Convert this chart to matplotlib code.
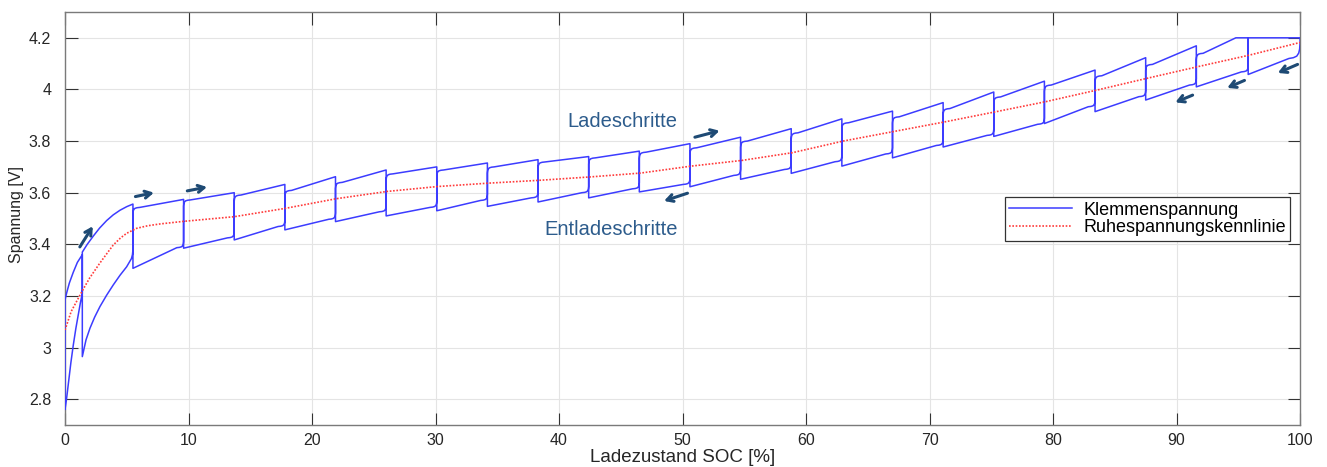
import matplotlib
matplotlib.use('Agg')
import matplotlib.pyplot as plt
import numpy as np

plt.rcParams['font.family'] = ['Liberation Sans', 'DejaVu Sans']

# ---------------- data ----------------
# step boundaries [% SOC] of the regular charge / discharge boxes
step_soc = [5.5, 9.6, 13.7, 17.8, 21.9, 26.0, 30.1, 34.2, 38.3, 42.4, 46.5, 50.6,
            54.7, 58.8, 62.9, 67.0, 71.1, 75.2, 79.3, 83.4, 87.5, 91.6, 95.8, 100.0]
# charging edge (top) of each box: value at start (left) and end (right)
charge_start = [3.543, 3.572, 3.591, 3.609, 3.640, 3.673, 3.688, 3.700, 3.719, 3.735,
                3.757, 3.774, 3.800, 3.832, 3.871, 3.894, 3.926, 3.971, 4.017, 4.053,
                4.097, 4.140, 4.200]
charge_end = [3.574, 3.600, 3.632, 3.662, 3.688, 3.700, 3.715, 3.728, 3.740, 3.761,
              3.790, 3.815, 3.848, 3.886, 3.916, 3.949, 3.990, 4.032, 4.075, 4.123,
              4.169, 4.200, 4.200]
# discharging edge (bottom) of each box: value at start (right) and end (left)
discharge_start = [3.387, 3.425, 3.469, 3.497, 3.526, 3.543, 3.570, 3.580, 3.600, 3.615,
                   3.632, 3.667, 3.690, 3.720, 3.750, 3.783, 3.822, 3.865, 3.933, 3.972,
                   4.017, 4.068, 4.120]
discharge_end = [3.307, 3.385, 3.417, 3.456, 3.488, 3.510, 3.530, 3.547, 3.564, 3.580,
                 3.603, 3.623, 3.652, 3.675, 3.703, 3.735, 3.777, 3.818, 3.868, 3.914,
                 3.959, 4.010, 4.058]
charge_limit_v = 4.2
charge_limit_soc = 94.8

# first two (irregular) steps, read point by point
charge_a_soc = [0.0, 0.15, 0.35, 0.67, 1.0, 1.4]
charge_a_v = [3.185, 3.215, 3.25, 3.292, 3.33, 3.36]
charge_b_soc = [1.4, 1.8, 2.29, 2.8, 3.37, 3.9, 4.45, 5.0, 5.5]
charge_b_v = [3.37, 3.40, 3.432, 3.463, 3.492, 3.514, 3.532, 3.546, 3.556]
discharge_b_soc = [5.5, 5.46, 5.38, 4.99, 4.45, 3.91, 3.37, 2.83, 2.4, 2.02, 1.7, 1.4]
discharge_b_v = [3.38, 3.36, 3.345, 3.313, 3.28, 3.243, 3.203, 3.159, 3.118, 3.075, 3.03, 2.965]
discharge_a_soc = [1.4, 1.25, 1.08, 0.88, 0.67, 0.47, 0.27, 0.12, 0.0]
discharge_a_v = [3.21, 3.175, 3.13, 3.075, 3.01, 2.94, 2.86, 2.80, 2.76]

# open circuit voltage curve (Ruhespannungskennlinie)
ocv_soc = [0, 0.5, 1.4, 2.0, 2.8, 3.4, 3.9, 4.5, 5.0, 5.8, 6.7, 7.7, 9.6, 13.7, 17.8,
           22.0, 26.1, 30.2, 34.3, 38.4, 42.5, 46.6, 50.7, 54.8, 58.9, 63.0, 67.1,
           71.2, 75.3, 79.35, 83.5, 87.6, 91.7, 95.9, 100]
ocv_v = [3.068, 3.14, 3.22, 3.27, 3.326, 3.365, 3.397, 3.425, 3.443, 3.462, 3.472,
         3.479, 3.489, 3.507, 3.539, 3.577, 3.605, 3.624, 3.637, 3.648, 3.661, 3.676,
         3.703, 3.725, 3.755, 3.80, 3.837, 3.874, 3.913, 3.952, 3.997, 4.043, 4.088,
         4.133, 4.182]

xticks = [0, 10, 20, 30, 40, 50, 60, 70, 80, 90, 100]
yticks = [2.8, 3.0, 3.2, 3.4, 3.6, 3.8, 4.0, 4.2]
ytick_labels = ['2.8', '3', '3.2', '3.4', '3.6', '3.8', '4', '4.2']

# arrows: (tail soc, tail v, head soc, head v)
arrows = [(1.2, 3.39, 2.25, 3.47), (5.7, 3.585, 7.2, 3.60), (9.9, 3.607, 11.5, 3.622),
          (51.0, 3.815, 53.0, 3.84), (50.4, 3.598, 48.5, 3.568),
          (91.3, 3.978, 89.9, 3.95), (95.5, 4.035, 94.1, 4.006), (99.8, 4.097, 98.2, 4.064)]

# ---------------- style constants ----------------
BLUE = '#3c3cff'
RED = '#ff3b3b'
ARROW = '#1e4a74'
TEXTC = '#2d5c8c'
# rounded-corner shape (fractions of corner size)
CORNER_DV = 0.024
CORNER_DX = 0.55
CORNER_SHAPE_X = [0.0, 0.04, 0.12, 0.3, 0.6, 1.0]
CORNER_SHAPE_Y = [1.0, 0.6, 0.35, 0.15, 0.05, 0.0]


def ocv(s):
    return float(np.interp(s, ocv_soc, ocv_v))


# ---- charge trajectory ----
cx, cy = [0.0], [ocv(0.0)]
cx += charge_a_soc; cy += charge_a_v
cx += [1.4]; cy += [ocv(1.4)]
cx += charge_b_soc; cy += charge_b_v
for i in range(len(charge_start)):
    a, b = step_soc[i], step_soc[i + 1]
    cs, ce = charge_start[i], charge_end[i]
    slope = (ce - cs) / (b - a - CORNER_DX)
    cx.append(a); cy.append(ocv(a))
    if cs < charge_limit_v:
        for fx, fy in zip(CORNER_SHAPE_X, CORNER_SHAPE_Y):
            cx.append(a + fx * CORNER_DX)
            cy.append(cs - fy * CORNER_DV + slope * 0.0)
    else:
        cx.append(a); cy.append(cs)
    if ce >= charge_limit_v and cs < charge_limit_v:
        cx.append(charge_limit_soc); cy.append(charge_limit_v)
    cx.append(b); cy.append(ce)
cx.append(100.0); cy.append(ocv(100.0))

# ---- discharge trajectory ----
dx_, dy_ = [], []
n = len(discharge_start)
for i in range(n - 1, -1, -1):
    a, b = step_soc[i], step_soc[i + 1]
    ds, de = discharge_start[i], discharge_end[i]
    dv = 0.06 if i == n - 1 else CORNER_DV
    cdx = 0.9 if i == n - 1 else CORNER_DX
    dx_.append(b); dy_.append(ocv(b))
    for fx, fy in zip(CORNER_SHAPE_X, CORNER_SHAPE_Y):
        dx_.append(b - fx * cdx)
        dy_.append(ds + fy * dv)
    dx_.append(a); dy_.append(de)
dx_.append(5.5); dy_.append(ocv(5.5))
dx_ += discharge_b_soc; dy_ += discharge_b_v
dx_.append(1.4); dy_.append(ocv(1.4))
dx_ += discharge_a_soc; dy_ += discharge_a_v
dx_.append(0.0); dy_.append(ocv(0.0))

blue_x = cx + dx_
blue_y = cy + dy_

# ---------------- figure ----------------
fig = plt.figure(figsize=(13.27, 4.67), dpi=100)
ax = fig.add_axes([0.049, 0.0899, 0.9307, 0.8844])

ax.plot(blue_x, blue_y, color=BLUE, lw=1.1, label='Klemmenspannung', zorder=3,
        solid_joinstyle='round')
ax.plot(ocv_soc, ocv_v, color=RED, lw=1.2, ls=(0, (1, 1)), label='Ruhespannungskennlinie', zorder=4)

ax.set_xlim(0, 100)
ax.set_ylim(2.7, 4.3)
ax.set_xticks(xticks)
ax.set_yticks(yticks)
ax.set_yticklabels(ytick_labels)
ax.grid(True, color='#e4e4e4', lw=0.8)
ax.set_axisbelow(True)
ax.tick_params(direction='in', length=9, width=0.8, top=True, right=True,
               labelsize=11.5, colors='#333333', labelcolor='#262626')
ax.tick_params(axis='y', pad=10)
ax.tick_params(axis='x', pad=6)
for sp in ax.spines.values():
    sp.set_color('#7a7a7a')
    sp.set_linewidth(1.0)

ax.set_xlabel('Ladezustand SOC [%]', fontsize=13.5, color='#262626')
ax.xaxis.set_label_coords(0.5, -0.058)
ax.set_ylabel('Spannung [V]', fontsize=11.5, color='#262626')
ax.yaxis.label.set_va('center')
ax.yaxis.set_label_coords(-0.039, 0.51)

for (x0, y0, x1, y1) in arrows:
    ax.annotate('', xy=(x1, y1), xytext=(x0, y0),
                arrowprops=dict(arrowstyle='->,head_length=0.45,head_width=0.25',
                                color=ARROW, lw=2.2, shrinkA=0, shrinkB=0), zorder=6)

ax.text(45.1, 3.877, 'Ladeschritte', fontsize=14.5, color=TEXTC, ha='center', va='center')
ax.text(44.2, 3.459, 'Entladeschritte', fontsize=14.5, color=TEXTC, ha='center', va='center')

leg = ax.legend(loc='upper right', bbox_to_anchor=(0.992, 0.552), fontsize=13,
                frameon=True, fancybox=False, edgecolor='#333333', framealpha=1,
                borderpad=0.25, labelspacing=0.05, handlelength=3.5, handletextpad=0.6,
                borderaxespad=0)
leg.get_frame().set_linewidth(0.9)

fig.savefig('out.png', dpi=100)
